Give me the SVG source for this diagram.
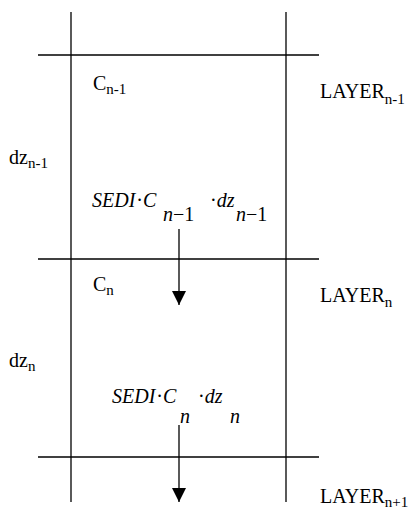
<svg xmlns="http://www.w3.org/2000/svg" width="416" height="507" viewBox="0 0 416 507">
<defs>
<style>
.ln{stroke:#000;stroke-width:1.3;fill:none}
.t{font-family:"Liberation Serif","Times New Roman",serif;font-size:20px;fill:#000}
.s{font-size:15px}
.m{font-family:"Liberation Serif","Times New Roman",serif;font-size:20px;fill:#000}
.i{font-style:italic}
.u{font-style:normal}
</style>
<marker id="ah" viewBox="0 0 14 14" refX="14" refY="7" markerWidth="14" markerHeight="14" markerUnits="userSpaceOnUse" orient="auto">
<path d="M0,0 L14,7 L0,14 Z" fill="#000"/>
</marker>
</defs>
<g id="grid">
<line class="ln" x1="71" y1="12" x2="71" y2="502"/>
<line class="ln" x1="286" y1="12" x2="286" y2="502"/>
<line class="ln" x1="38" y1="55" x2="319" y2="55"/>
<line class="ln" x1="38" y1="259" x2="319" y2="259"/>
<line class="ln" x1="38" y1="457" x2="319" y2="457"/>
</g>
<g id="connectors">
<line class="ln" x1="179" y1="229" x2="179" y2="305" marker-end="url(#ah)"/>
<line class="ln" x1="179" y1="425" x2="179" y2="502" marker-end="url(#ah)"/>
</g>
<g id="labels">
<text class="t" x="93" y="90">C<tspan class="s" dy="4">n-1</tspan></text>
<text class="t" x="320" y="98">LAYER<tspan class="s" dy="6">n-1</tspan></text>
<text class="t" x="9" y="164">dz<tspan class="s" dy="4">n-1</tspan></text>
<text class="t" x="93" y="291">C<tspan class="s" dy="4">n</tspan></text>
<text class="t" x="320" y="302">LAYER<tspan class="s" dy="5">n</tspan></text>
<text class="t" x="9" y="367">dz<tspan class="s" dy="4">n</tspan></text>
<text class="t" x="320" y="503">LAYER<tspan class="s" dy="4">n+1</tspan></text>
</g>
<g id="expr1">
<text class="m i" x="92" y="207">SEDI<tspan class="u" dx="1">·</tspan>C<tspan x="163" y="221">n</tspan><tspan class="u">−1</tspan><tspan class="u" x="210" y="207">·</tspan>dz<tspan x="236" y="221">n</tspan><tspan class="u">−1</tspan></text>
</g>
<g id="expr2">
<text class="m i" x="112" y="403">SEDI<tspan class="u" dx="1">·</tspan>C<tspan x="180" y="423">n</tspan><tspan class="u" x="198" y="403">·</tspan>dz<tspan x="230" y="423">n</tspan></text>
</g>
</svg>
